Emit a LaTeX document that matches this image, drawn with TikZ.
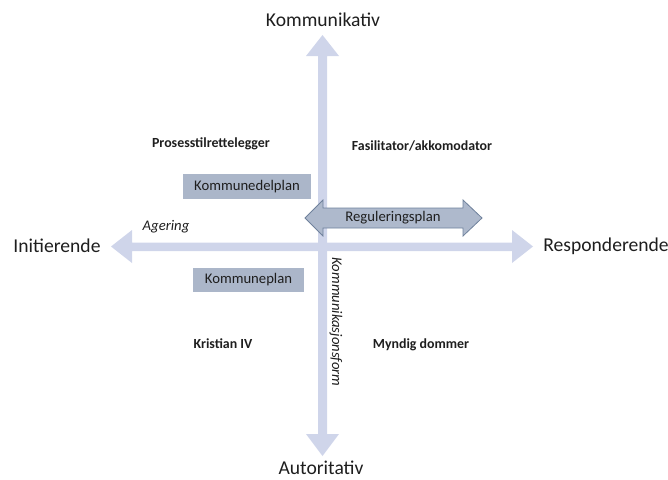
\documentclass[tikz,border=0pt]{standalone}
\usepackage{fontspec}
\setmainfont{Carlito}
\definecolor{axiscol}{HTML}{CFD5EA}
\definecolor{boxcol}{HTML}{ABB6C9}
\definecolor{regfill}{HTML}{AEB9CC}
\definecolor{regline}{HTML}{6F819C}
\definecolor{txt}{HTML}{1E1E1E}
\tikzset{
  axislabel/.style={text=txt, inner sep=0pt, font=\fontsize{19.6}{23}\selectfont},
  rolelabel/.style={text=txt, inner sep=0pt, font=\bfseries\fontsize{13.9}{16}\selectfont},
  planbox/.style={fill=boxcol, draw=none, text=txt, inner sep=0pt, font=\fontsize{14.7}{17}\selectfont},
  axisshape/.style={fill=axiscol, draw=none},
  smalltext/.style={text=txt, inner sep=0pt, font=\itshape\fontsize{14.7}{17}\selectfont}
}
\begin{document}
\begin{tikzpicture}[x=1pt,y=-1pt]
\useasboundingbox (0,0) rectangle (668,479);
% vertical axis
\fill[axisshape] (318,56) -- (306,56) -- (322.5,35) -- (339,56) -- (327,56) -- (327,434) -- (339,434) -- (322.5,456) -- (306,434) -- (318,434) -- cycle;
% horizontal axis
\fill[axisshape] (132,242.5) -- (132,230) -- (111,246.5) -- (132,263) -- (132,251) -- (512,251) -- (512,263) -- (533,246.5) -- (512,230) -- (512,242.5) -- cycle;
% labels
\node[axislabel] (komm) at (323,20) {Kommunikativ};
\node[axislabel] (init) at (57,246) {Initierende};
\node[axislabel] (resp) at (606,246) {Responderende};
\node[axislabel] (auto) at (321,468) {Autoritativ};
\node[rolelabel] (pros) at (211,144) {Prosesstilrettelegger};
\node[rolelabel] (fasi) at (422,146) {Fasilitator/akkomodator};
\node[rolelabel] (kris) at (223,344) {Kristian IV};
\node[rolelabel] (mynd) at (421,345) {Myndig dommer};
% plan boxes
\node[planbox, minimum width=128pt, minimum height=25pt] (kdp) at (247,186.5) {Kommunedelplan};
\node[planbox, minimum width=111pt, minimum height=24pt] (kp) at (248.5,280) {Kommuneplan};
% Reguleringsplan double arrow
\filldraw[fill=regfill, draw=regline, line width=0.8pt] (323,208) -- (323,200) -- (305,218) -- (323,236) -- (323,228) -- (463,228) -- (463,236) -- (482,218) -- (463,200) -- (463,208) -- cycle;
\node[text=txt, inner sep=0pt, font=\fontsize{14.7}{17}\selectfont] (reg) at (393,218) {Reguleringsplan};
% italic labels
\node[smalltext] (ager) at (166,227) {Agering};
\node[smalltext, rotate=-90] (kform) at (336,322) {Kommunikasjonsform};
\end{tikzpicture}
\end{document}
